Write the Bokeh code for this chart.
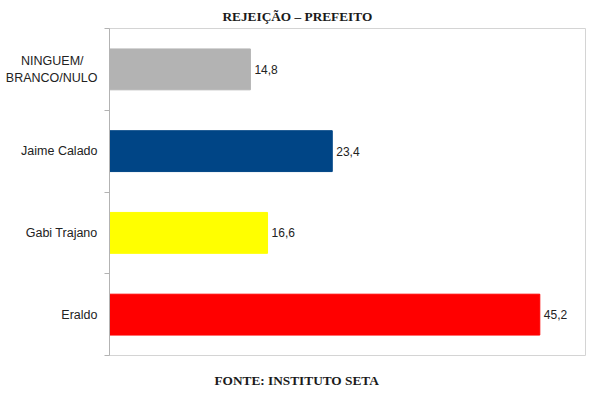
from bokeh.plotting import figure
from bokeh.models import ColumnDataSource, Range1d, FixedTicker, Title
from bokeh.core.properties import value
from bokeh.embed import file_html
from bokeh.resources import INLINE

# Data (top to bottom as in the chart)
candidates = ["NINGUEM/\u00a0\u00a0\u00a0\u00a0\nBRANCO/NULO", "Jaime Calado", "Gabi Trajano", "Eraldo"]
rejection = [14.8, 23.4, 16.6, 45.2]
bar_colors = ["#b3b3b3", "#004586", "#ffff00", "#ff0000"]

n = len(candidates)
ypos = [n - i - 0.5 for i in range(n)]
source = ColumnDataSource(dict(
    y=ypos,
    val=rejection,
    color=bar_colors,
    lbl=[f"{v:.1f}".replace(".", ",") for v in rejection],
))

p = figure(frame_width=476, frame_height=327, output_backend="svg", toolbar_location=None,
           x_range=Range1d(0, 50), y_range=Range1d(0, n))
p.min_border_left = 109
p.min_border_right = 7
p.min_border_top = 28
p.min_border_bottom = 10

p.hbar(y="y", left=0, right="val", height=0.5, color="color", source=source)

# value labels
p.text(x="val", y="y", text="lbl", source=source, x_offset=4,
       text_baseline="middle", text_align="left", text_font=value("Liberation Sans"),
       text_font_size="12px", text_color="#222222")

p.xaxis.visible = False
p.xgrid.visible = False
p.ygrid.visible = False

# category labels on the axis, ticks between categories
p.yaxis.ticker = FixedTicker(ticks=ypos, minor_ticks=list(range(n + 1)))
p.yaxis.major_label_overrides = {y: c for y, c in zip(ypos, candidates)}
p.yaxis.major_tick_out = 0
p.yaxis.major_tick_in = 0
p.yaxis.minor_tick_out = 5
p.yaxis.minor_tick_in = 0
p.yaxis.major_label_standoff = 7
p.yaxis.major_label_text_font = "Liberation Sans"
p.yaxis.major_label_text_font_size = "12.5px"
p.yaxis.major_label_text_color = "#222222"
p.yaxis.axis_line_color = "#b3b3b3"
p.yaxis.minor_tick_line_color = "#b3b3b3"
p.outline_line_color = "#d4d4d4"

# title and source note
p.add_layout(Title(text="REJEIÇÃO – PREFEITO", align="left", offset=113,
                   text_font="Liberation Serif", text_font_size="13.3px",
                   text_font_style="bold", text_color="#1a1a1a"), "above")
p.add_layout(Title(text="FONTE: INSTITUTO SETA", align="left", offset=105, standoff=31,
                   text_font="Liberation Serif", text_font_size="13.3px",
                   text_font_style="bold", text_color="#1a1a1a"), "below")

open("out.html", "w").write(file_html(p, INLINE))
